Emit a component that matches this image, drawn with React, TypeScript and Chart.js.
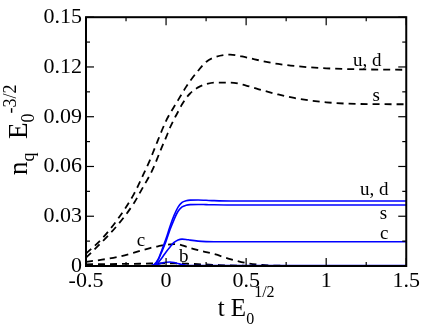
import React, { useEffect, useRef } from "react";
import { Chart, registerables } from "chart.js";
Chart.register(...registerables);

// time grid (t E0^1/2)
const T = [-0.5, -0.4, -0.3, -0.2, -0.15, -0.1, -0.075, -0.05, -0.025, 0, 0.025, 0.05, 0.075, 0.1, 0.125, 0.15, 0.2, 0.25, 0.3, 0.4, 0.5, 0.6, 0.7, 0.8, 1.0, 1.2, 1.5];

// dashed (black) series
const UD_DASHED = [0.0075, 0.0165, 0.0285, 0.0435, 0.0535, 0.064, 0.070, 0.076, 0.082, 0.0875, 0.092, 0.096, 0.100, 0.104, 0.108, 0.1115, 0.1177, 0.1230, 0.1257, 0.1274, 0.1258, 0.1236, 0.1218, 0.1206, 0.1192, 0.1186, 0.1183];
const S_DASHED = [0.005, 0.0145, 0.025, 0.038, 0.0465, 0.055, 0.060, 0.066, 0.072, 0.0775, 0.0835, 0.0885, 0.093, 0.0975, 0.1012, 0.104, 0.1077, 0.1096, 0.1106, 0.1106, 0.1088, 0.1060, 0.1034, 0.1013, 0.0987, 0.0977, 0.0975];
const C_DASHED = [0.0025, 0.0038, 0.0055, 0.0080, 0.0095, 0.0108, 0.0114, 0.0119, 0.0124, 0.0127, 0.0130, 0.0132, 0.0131, 0.0125, 0.0117, 0.0109, 0.0095, 0.0084, 0.0072, 0.0042, 0.0018, 0.0006, 0.0002, 0.0001, 0, 0, 0];
const B_DASHED = [0.0010, 0.0011, 0.0012, 0.0013, 0.0014, 0.0015, 0.0015, 0.0016, 0.0016, 0.0016, 0.0016, 0.0016, 0.0015, 0.0015, 0.0014, 0.0013, 0.0011, 0.0009, 0.0007, 0.0003, 0.0001, 0, 0, 0, 0, 0, 0];

// solid (blue) series
const UD_BLUE = [0, 0, 0, 0, 0, 0.0001, 0.0008, 0.004, 0.010, 0.0165, 0.024, 0.0305, 0.0355, 0.0383, 0.0393, 0.0397, 0.0398, 0.0396, 0.0394, 0.0392, 0.0392, 0.0392, 0.0392, 0.0392, 0.0392, 0.0392, 0.0392];
const S_BLUE = [0, 0, 0, 0, 0, 0.0001, 0.0006, 0.0035, 0.009, 0.015, 0.022, 0.028, 0.033, 0.0356, 0.0366, 0.037, 0.0371, 0.037, 0.0369, 0.0368, 0.0368, 0.0368, 0.0368, 0.0368, 0.0368, 0.0368, 0.0368];
const C_BLUE = [0, 0, 0, 0, 0, 0.0001, 0.0004, 0.002, 0.005, 0.0085, 0.0115, 0.0142, 0.0157, 0.0162, 0.016, 0.0156, 0.015, 0.0147, 0.0146, 0.0146, 0.0146, 0.0146, 0.0146, 0.0146, 0.0146, 0.0146, 0.0146];
const B_BLUE = [0, 0, 0, 0, 0, 0.0001, 0.0002, 0.001, 0.0018, 0.0023, 0.0024, 0.0021, 0.0015, 0.0009, 0.0005, 0.0003, 0.0002, 0.0002, 0.0002, 0.0002, 0.0002, 0.0002, 0.0002, 0.0002, 0.0002, 0.0002, 0.0002];

// axis ticks
const X_TICKS = [-0.5, 0, 0.5, 1, 1.5];
const X_TICK_LABELS = ["-0.5", "0", "0.5", "1", "1.5"];
const Y_TICKS = [0, 0.03, 0.06, 0.09, 0.12, 0.15];
const Y_TICK_LABELS = ["0", "0.03", "0.06", "0.09", "0.12", "0.15"];

const FONT = "'Liberation Serif', 'Times New Roman', serif";

type Part = { text: string; size: number; dy: number };

function drawRich(ctx: CanvasRenderingContext2D, parts: Part[], x: number, y: number) {
  let cx = x;
  for (const p of parts) {
    ctx.font = `${p.size}px ${FONT}`;
    ctx.fillText(p.text, cx, y + p.dy);
    cx += ctx.measureText(p.text).width;
  }
}
function richWidth(ctx: CanvasRenderingContext2D, parts: Part[]) {
  let w = 0;
  for (const p of parts) {
    ctx.font = `${p.size}px ${FONT}`;
    w += ctx.measureText(p.text).width;
  }
  return w;
}

const overlay = {
  id: "overlay",
  afterDraw(chart: any) {
    const { ctx, chartArea: a, scales } = chart;
    const xs = scales.x;
    const ys = scales.y;
    ctx.save();
    ctx.strokeStyle = "#000";
    ctx.lineWidth = 1.2;
    const ln = (x1: number, y1: number, x2: number, y2: number) => {
      ctx.beginPath();
      ctx.moveTo(x1, y1);
      ctx.lineTo(x2, y2);
      ctx.stroke();
    };
    for (let i = 0; i <= 8; i++) {
      const px = xs.getPixelForValue(-0.5 + i * 0.25);
      const len = i % 2 === 0 ? 8 : 4;
      ln(px, a.bottom, px, a.bottom - len);
      ln(px, a.top, px, a.top + len);
    }
    for (let i = 0; i <= 10; i++) {
      const py = ys.getPixelForValue(i * 0.015);
      const len = i % 2 === 0 ? 8 : 4;
      ln(a.left, py, a.left + len, py);
      ln(a.right, py, a.right - len, py);
    }
    ctx.lineWidth = 2;
    ctx.strokeRect(a.left, a.top, a.right - a.left, a.bottom - a.top);

    // curve labels
    ctx.fillStyle = "#000";
    ctx.textAlign = "center";
    ctx.textBaseline = "alphabetic";
    ctx.font = `19px ${FONT}`;
    const labels: [string, number, number][] = [
      ["u, d", 1.257, 0.1203],
      ["s", 1.313, 0.0992],
      ["u, d", 1.30, 0.0426],
      ["s", 1.357, 0.0286],
      ["c", 1.363, 0.0163],
      ["c", -0.157, 0.0123],
      ["b", 0.111, 0.0023],
    ];
    for (const [t, lx, ly] of labels) {
      ctx.fillText(t, xs.getPixelForValue(lx), ys.getPixelForValue(ly));
    }

    // x title: t E_0^{1/2}
    ctx.textAlign = "left";
    const xt: Part[] = [
      { text: "t E", size: 25, dy: 0 },
      { text: "0", size: 16, dy: 8 },
      { text: "1/2", size: 16, dy: -19 },
    ];
    const w = richWidth(ctx, xt);
    drawRich(ctx, xt, (a.left + a.right) / 2 - w / 2, 316);

    // y title: n_q E_0^{-3/2}
    const yt: Part[] = [
      { text: "n", size: 27, dy: 0 },
      { text: "q", size: 18, dy: 7 },
      { text: "  E", size: 27, dy: 0 },
      { text: "0", size: 18, dy: 7 },
      { text: "-3/2", size: 18, dy: -11 },
    ];
    ctx.translate(27, 175);
    ctx.rotate(-Math.PI / 2);
    drawRich(ctx, yt, 0, 0);
    ctx.restore();
  },
};

export default function App() {
  const ref = useRef<HTMLCanvasElement>(null);
  useEffect(() => {
    const mk = (d: number[]) => T.map((t, i) => ({ x: t, y: d[i] }));
    const dashed = (label: string, d: number[]) => ({
      label,
      data: mk(d),
      borderColor: "#000",
      borderWidth: 1.8,
      borderDash: [7, 5],
      pointRadius: 0,
      cubicInterpolationMode: "monotone" as const,
      fill: false,
    });
    const blue = (label: string, d: number[]) => ({
      label,
      data: mk(d),
      borderColor: "#0000ff",
      borderWidth: 1.6,
      pointRadius: 0,
      cubicInterpolationMode: "monotone" as const,
      fill: false,
    });
    const tickFont = { family: FONT, size: 22 };
    const chart = new Chart(ref.current!, {
      type: "line",
      data: {
        datasets: [
          blue("u, d (blue)", UD_BLUE),
          blue("s (blue)", S_BLUE),
          blue("c (blue)", C_BLUE),
          blue("b (blue)", B_BLUE),
          dashed("u, d", UD_DASHED),
          dashed("s", S_DASHED),
          dashed("c", C_DASHED),
          dashed("b", B_DASHED),
        ],
      },
      options: {
        responsive: false,
        devicePixelRatio: 1,
        animation: false,
        layout: { padding: { left: 0, right: 15, top: 9, bottom: 0 } },
        plugins: { legend: { display: false }, tooltip: { enabled: false } },
        scales: {
          x: {
            type: "linear",
            min: -0.5,
            max: 1.5,
            grid: { display: false, drawTicks: false },
            border: { display: false },
            afterBuildTicks: (s: any) => {
              s.ticks = X_TICKS.map((v) => ({ value: v }));
            },
            afterFit: (s: any) => {
              s.height = 61;
            },
            ticks: {
              callback: (_v: any, i: number) => X_TICK_LABELS[i],
              font: tickFont,
              color: "#000",
              padding: 2,
              maxRotation: 0,
              autoSkip: false,
            },
          },
          y: {
            type: "linear",
            min: 0,
            max: 0.15,
            grid: { display: false, drawTicks: false },
            border: { display: false },
            afterBuildTicks: (s: any) => {
              s.ticks = Y_TICKS.map((v) => ({ value: v }));
            },
            afterFit: (s: any) => {
              s.width = 86;
            },
            ticks: {
              callback: (_v: any, i: number) => Y_TICK_LABELS[i],
              font: tickFont,
              color: "#000",
              padding: 4,
              autoSkip: false,
            },
          },
        },
      },
      plugins: [overlay],
    } as any);
    return () => chart.destroy();
  }, []);
  return (
    <div style={{ position: "fixed", left: 0, top: 0, width: 422, height: 327, background: "#fff" }}>
      <canvas ref={ref} width={422} height={327} style={{ display: "block", width: 422, height: 327 }} />
    </div>
  );
}
